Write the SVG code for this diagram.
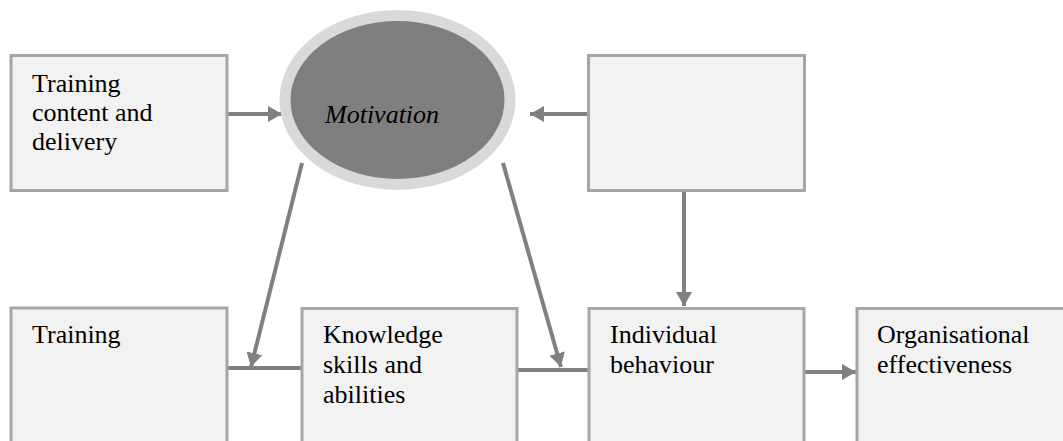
<svg xmlns="http://www.w3.org/2000/svg" width="1063" height="441" viewBox="0 0 1063 441">
<style>
.box{fill:#f2f2f2;stroke:#a6a6a6;stroke-width:3}
.t{font-family:'Liberation Serif','DejaVu Serif',serif;font-size:26px;fill:#000}
.c{fill:none;stroke:#808080;stroke-width:4}
</style>
<defs>
<marker id="ah" markerUnits="userSpaceOnUse" markerWidth="16" markerHeight="18" viewBox="0 0 16 18" refX="14" refY="9" orient="auto">
<path d="M0,1 L14,9 L0,17 Z" fill="#808080"/>
</marker>
</defs>
<rect width="1063" height="441" fill="#fff"/>
<g id="connectors">
<line class="c" x1="228" y1="114" x2="282" y2="114" marker-end="url(#ah)"/>
<line class="c" x1="588" y1="114" x2="530" y2="114" marker-end="url(#ah)"/>
<line class="c" x1="684" y1="192" x2="684" y2="306" marker-end="url(#ah)"/>
<line class="c" x1="228" y1="368" x2="301" y2="368"/>
<line class="c" x1="302" y1="163" x2="251" y2="367" marker-end="url(#ah)"/>
<line class="c" x1="518" y1="370" x2="588" y2="370"/>
<line class="c" x1="503" y1="163" x2="561" y2="367" marker-end="url(#ah)"/>
<line class="c" x1="805" y1="372" x2="856" y2="372" marker-end="url(#ah)"/>
</g>
<g id="n-training-content">
<rect class="box" x="11" y="55.5" width="216" height="135"/>
<text class="t" font-family="Liberation Serif" x="32" y="92">Training</text>
<text class="t" font-family="Liberation Serif" x="32" y="121">content and</text>
<text class="t" font-family="Liberation Serif" x="32" y="150">delivery</text>
</g>
<g id="n-motivation">
<ellipse cx="397.5" cy="100" rx="112.5" ry="84.5" fill="#7f7f7f" stroke="#d9d9d9" stroke-width="11"/>
<text class="t" font-family="Liberation Serif" x="325" y="123" font-style="italic">Motivation</text>
</g>
<g id="n-blank">
<rect class="box" x="588.5" y="55.5" width="216" height="135"/>
</g>
<g id="n-training">
<rect class="box" x="11" y="308" width="216" height="200"/>
<text class="t" font-family="Liberation Serif" x="32" y="343">Training</text>
</g>
<g id="n-ksa">
<rect class="box" x="302" y="308.5" width="215" height="200"/>
<text class="t" font-family="Liberation Serif" x="323" y="343">Knowledge</text>
<text class="t" font-family="Liberation Serif" x="323" y="373">skills and</text>
<text class="t" font-family="Liberation Serif" x="323" y="403">abilities</text>
</g>
<g id="n-individual">
<rect class="box" x="589" y="308.5" width="215" height="200"/>
<text class="t" font-family="Liberation Serif" x="610" y="343">Individual</text>
<text class="t" font-family="Liberation Serif" x="610" y="373">behaviour</text>
</g>
<g id="n-organisational">
<rect class="box" x="857" y="308.5" width="260" height="200"/>
<text class="t" font-family="Liberation Serif" x="877" y="343">Organisational</text>
<text class="t" font-family="Liberation Serif" x="877" y="373">effectiveness</text>
</g>
</svg>
